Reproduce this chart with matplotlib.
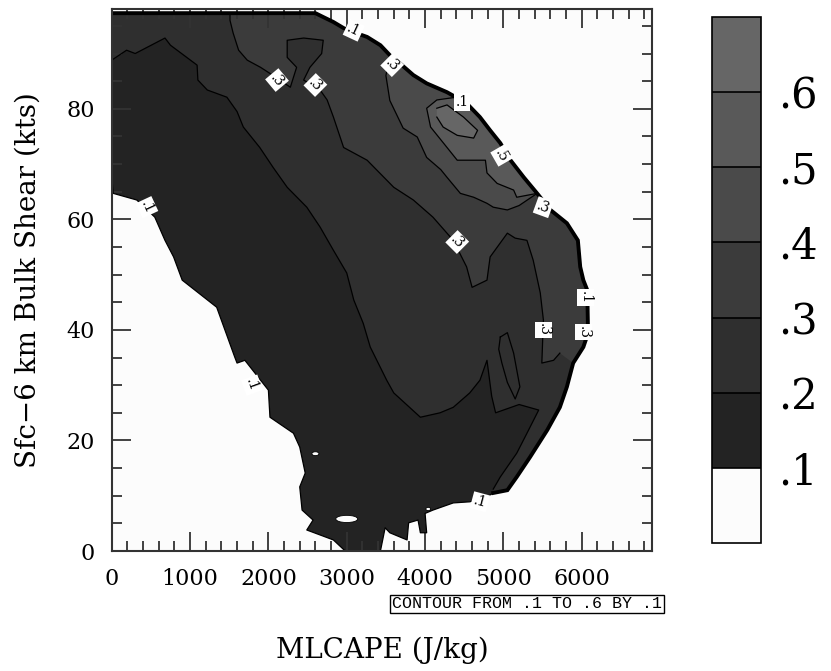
import numpy as np
import matplotlib
matplotlib.use("Agg")
import matplotlib.pyplot as plt
from matplotlib.colors import ListedColormap, BoundaryNorm
from matplotlib.patches import Polygon, Ellipse
import matplotlib.colorbar as mcolorbar

# ---------------- data (MLCAPE in J/kg, shear in kts) ----------------
levels = [0.0, 0.1, 0.2, 0.3, 0.4, 0.5, 0.6, 0.7]
level_labels = [".1", ".2", ".3", ".4", ".5", ".6"]
band_colors = ["#fcfcfc", "#232323", "#2f2f2f", "#3b3b3b", "#4a4a4a", "#595959", "#666666"]

# outer (0.1) boundary, north-east part (top edge -> right edge -> lower right)
edge_ne_cape = [0, 2600, 2700, 2830, 2960, 3100, 3260, 3430, 3550, 3680, 3850, 4020, 4280,
                4530, 4700, 4830, 4960, 5090, 5260, 5430, 5600, 5810, 5950, 5980, 6020, 6070,
                6080, 6020, 5890, 5810, 5720, 5560, 5340, 5170, 5050, 4870]
edge_ne_shear = [97.3, 97.3, 96.6, 95.7, 94.6, 93.8, 93.0, 91.5, 89.7, 88.2, 86.1, 84.6, 83.0,
                 81.0, 78.5, 76.1, 73.8, 70.7, 67.6, 64.7, 61.7, 59.3, 56.2, 51.4, 49.0, 47.2,
                 39.4, 36.9, 34.0, 29.7, 26.0, 21.9, 17.0, 13.4, 11.0, 10.5]
# outer (0.1) boundary, south-west part (bottom -> left side)
edge_sw_cape = [4790, 4570, 4360, 4100, 4000, 4020, 3940, 3910, 3790, 3770, 3550, 3490, 3430,
                2980, 2830, 2490, 2570, 2430, 2400, 2470, 2400, 2320, 2020, 2000, 1700, 1600,
                1570, 1340, 900, 790, 680, 550, 320, 20, 0]
edge_sw_shear = [9.8, 8.9, 8.7, 7.4, 6.8, 3.3, 3.3, 5.6, 5.1, 2.0, 3.3, 4.2, 0.0,
                 0.0, 2.0, 3.8, 5.6, 7.4, 11.6, 14.1, 18.8, 21.3, 24.2, 29.1, 34.5, 34.0,
                 35.1, 44.1, 49.0, 53.2, 56.2, 60.4, 63.5, 64.7, 67.6]

# 0.2 contour (left edge -> lower right tip)
c02_cape = [0, 190, 300, 680, 750, 1090, 1100, 1220, 1470, 1600, 1680, 1890, 2060, 2240, 2490,
            2660, 2830, 3000, 3090, 3210, 3300, 3510, 3600, 3940, 4190, 4360, 4570, 4700, 4790,
            4850, 4900, 5200, 5450, 5300, 5170, 4960, 4870]
c02_shear = [88.8, 90.6, 90.0, 92.8, 91.5, 87.9, 85.2, 83.4, 82.1, 79.5, 76.7, 73.0, 69.4, 65.8,
             62.2, 58.6, 54.4, 50.3, 45.4, 41.2, 36.9, 30.9, 28.6, 24.2, 25.0, 26.0, 28.6, 30.9,
             34.5, 28.0, 25.0, 26.5, 25.5, 21.3, 17.7, 13.4, 11.2]

# 0.3 contour (top -> lower right)
c03_cape = [1510, 1510, 1550, 1620, 1730, 1900, 2020, 2280, 2360, 2240, 2240, 2450, 2700, 2680,
            2530, 2450, 2660, 2750, 2830, 2960, 3260, 3600, 3850, 4100, 4360, 4530, 4600, 4790,
            4830, 5050, 5150, 5300, 5380, 5470, 5510, 5490, 5640, 5720]
c03_shear = [97.3, 96.0, 93.7, 90.6, 88.8, 87.5, 86.4, 83.9, 87.5, 89.3, 92.4, 92.8, 92.4, 90.0,
             87.5, 85.2, 83.4, 81.6, 78.5, 73.0, 70.7, 65.8, 63.5, 60.4, 56.2, 51.4, 47.7, 49.0,
             53.2, 57.5, 56.6, 56.2, 52.6, 46.7, 41.8, 34.0, 34.5, 35.8]

# 0.4 contour (upper end at edge -> lower end at edge)
c04_cape = [3550, 3500, 3550, 3720, 3900, 4020, 4200, 4280, 4450, 4620, 4790, 4870, 5050, 5200, 5430]
c04_shear = [89.7, 86.0, 81.5, 76.5, 74.9, 71.2, 69.0, 67.6, 64.7, 64.0, 62.9, 62.2, 61.7, 62.5, 64.7]

# 0.5 contour (upper end at edge -> lower end at edge)
c05_cape = [4450, 4150, 4020, 4070, 4280, 4410, 4620, 4770, 4790, 4920, 5130, 5170, 5430]
c05_shear = [82.2, 81.6, 80.1, 76.7, 73.0, 70.7, 70.7, 70.7, 68.4, 66.5, 65.3, 64.0, 64.7]

# 0.6 contour (closed)
c06_cape = [4150, 4280, 4490, 4670, 4620, 4410, 4230, 4150]
c06_shear = [80.1, 80.7, 78.5, 76.1, 74.7, 75.2, 76.7, 78.5]

# small closed 0.2 loop (figure-eight) in the lower right
loop_cape = [4960, 5050, 5130, 5210, 5150, 5050, 4980, 4940, 4960]
loop_shear = [38.7, 39.5, 35.8, 29.7, 27.5, 30.5, 34.0, 36.5, 38.7]

# contour labels: (text, cape, shear, rotation)
contour_labels = [(".1", 3090, 94.2, -25), (".3", 3580, 87.9, -45), (".1", 4470, 81.2, 0),
                  (".5", 4980, 71.6, -60), (".3", 5510, 62.2, -20), (".1", 6050, 45.9, -90),
                  (".3", 6020, 39.6, -90), (".3", 5510, 40.0, -90), (".3", 4410, 55.9, -45),
                  (".3", 2110, 85.2, -50), (".3", 2600, 84.3, -45), (".1", 450, 62.2, -65),
                  (".1", 1790, 30.0, -70), (".1", 4700, 8.9, -15)]

# white holes (missing data) : (cape, shear, width, height)
holes = [(3000, 5.8, 280, 1.3), (2600, 17.6, 90, 0.7), (4040, 7.6, 60, 0.6)]

xmin, xmax, ymin, ymax = 0, 6900, 0, 98

# ---------------- figure ----------------
W, H = 831, 671
fig = plt.figure(figsize=(W / 100, H / 100), dpi=100)
fig.patch.set_facecolor("white")
serif = "DejaVu Serif"

ax = fig.add_axes([111.7 / W, 1 - 551 / H, (652.3 - 111.7) / W, (551 - 9.3) / H])
ax.set_xlim(xmin, xmax)
ax.set_ylim(ymin, ymax)
ax.set_facecolor("#fcfcfc")

ne = list(zip(edge_ne_cape, edge_ne_shear))
sw = list(zip(edge_sw_cape, edge_sw_shear))
c02 = list(zip(c02_cape, c02_shear))
c03 = list(zip(c03_cape, c03_shear))
c04 = list(zip(c04_cape, c04_shear))
c05 = list(zip(c05_cape, c05_shear))
c06 = list(zip(c06_cape, c06_shear))


def edge_part(y_hi, y_lo, x_min):
    return [(x, y) for x, y in ne if y_lo <= y <= y_hi and x >= x_min]


region01 = ne + sw
region02 = ne + c02[::-1]
region03 = edge_part(97.3, 34.0, c03_cape[0]) + c03[::-1]
region04 = edge_part(c04_shear[0], c04_shear[-1], c04_cape[0]) + c04[::-1]
region05 = edge_part(c05_shear[0], c05_shear[-1], c05_cape[0]) + c05[::-1]
region06 = c06

regions = [region01, region02, region03, region04, region05, region06]
for k, reg in enumerate(regions):
    ax.add_patch(Polygon(reg, closed=True, facecolor=band_colors[k + 1],
                         edgecolor="none", zorder=2 + k * 0.1))

# contour lines
lw = 0.9
for line in [c02, c03, c04, c05, c06]:
    xs, ys = zip(*line)
    ax.plot(xs, ys, color="black", lw=lw, zorder=3)
ax.plot(loop_cape, loop_shear, color="black", lw=lw, zorder=3)
xs, ys = zip(*(ne + sw + [ne[0]]))
ax.plot(xs, ys, color="black", lw=lw, zorder=3)
# packed contours along the steep north-east edge
xs, ys = zip(*ne)
ax.plot(xs, ys, color="black", lw=2.8, zorder=3, solid_joinstyle="miter")

for (hx, hy, hw, hh) in holes:
    ax.add_patch(Ellipse((hx, hy), hw, hh, facecolor="#fcfcfc", edgecolor="black",
                         lw=0.6, zorder=3.5))

for txt, cx, cy, rot in contour_labels:
    ax.text(cx, cy, txt, fontsize=10, family=serif, rotation=rot, ha="center",
            va="center", zorder=5,
            bbox=dict(boxstyle="square,pad=0.12", facecolor="white", edgecolor="none"))

# axes styling
for s in ax.spines.values():
    s.set_linewidth(1.5)
    s.set_color("#333333")
    s.set_zorder(6)
ax.set_xticks(np.arange(0, 6001, 1000))
ax.set_xticks(np.arange(0, 6900, 200), minor=True)
ax.set_yticks(np.arange(0, 81, 20))
ax.set_yticks(np.arange(0, 98, 5), minor=True)
ax.tick_params(which="both", direction="in", top=True, right=True, width=1.3, color="#333333")
ax.tick_params(which="major", length=13.7)
ax.tick_params(which="minor", length=7.2)
ax.tick_params(axis="x", which="major", pad=12)
ax.tick_params(axis="y", which="major", pad=12)
for lab in ax.get_xticklabels() + ax.get_yticklabels():
    lab.set_family(serif)
    lab.set_fontsize(16)
for t in ax.xaxis.get_major_ticks() + ax.xaxis.get_minor_ticks() + \
        ax.yaxis.get_major_ticks() + ax.yaxis.get_minor_ticks():
    t.tick1line.set_zorder(6)
    t.tick2line.set_zorder(6)
ax.set_axisbelow(False)

ax.set_xlabel("MLCAPE (J/kg)", family=serif, fontsize=20, labelpad=34)
ax.set_ylabel("Sfc\u22126 km Bulk Shear (kts)", family=serif, fontsize=20, labelpad=18)

fig.text(662 / W, 1 - 604 / H, "CONTOUR FROM .1 TO .6 BY .1", family="Liberation Mono",
         fontsize=12, ha="right", va="center",
         bbox=dict(boxstyle="square,pad=0.1", facecolor="white", edgecolor="black", lw=1))

# colour bar
cax = fig.add_axes([712 / W, 1 - 543 / H, (761 - 712) / W, (543 - 17) / H])
cmap = ListedColormap(band_colors)
norm = BoundaryNorm(levels, cmap.N)
cb = mcolorbar.ColorbarBase(cax, cmap=cmap, norm=norm, boundaries=levels,
                            ticks=levels[1:-1], drawedges=True)
cb.outline.set_linewidth(1.2)
cb.dividers.set_linewidth(1.2)
cb.set_ticklabels(level_labels)
cax.minorticks_off()
cax.tick_params(which="both", length=0, pad=12)
for lab in cax.get_yticklabels():
    lab.set_family(serif)
    lab.set_fontsize(30)

fig.savefig("out.png", dpi=100, facecolor="white")
